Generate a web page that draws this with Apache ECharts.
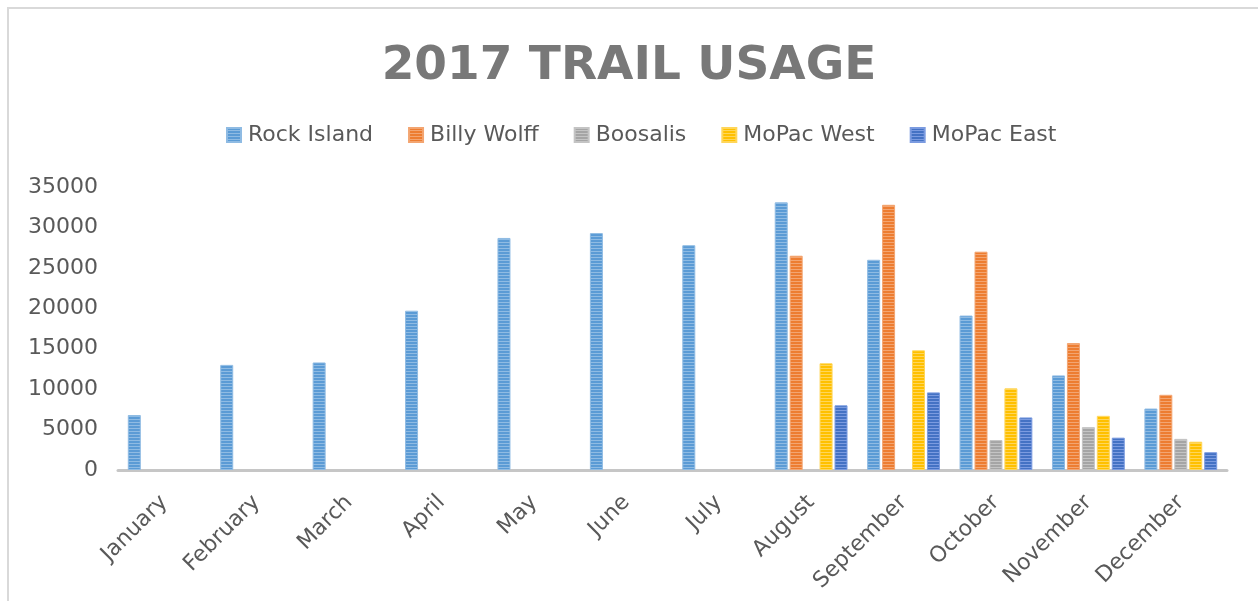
<!DOCTYPE html>
<html>
<head>
<meta charset="utf-8">
<title>2017 Trail Usage</title>
<script src="https://cdn.jsdelivr.net/npm/echarts@6/dist/echarts.min.js"></script>
<style>
  html, body { margin: 0; padding: 0; background: #fff; }
  #main { width: 1258px; height: 601px; }
</style>
</head>
<body>
<div id="main"></div>
<script>
// data
var months = ['January', 'February', 'March', 'April', 'May', 'June', 'July',
  'August', 'September', 'October', 'November', 'December'];
var rockIsland = [6800, 13000, 13300, 19700, 28700, 29300, 27800, 33100, 26000, 19100, 11700, 7600];
var billyWolff = [null, null, null, null, null, null, null, 26500, 32800, 27000, 15700, 9300];
var boosalis = [null, null, null, null, null, null, null, null, null, 3700, 5300, 3850];
var mopacWest = [null, null, null, null, null, null, null, 13200, 14800, 10100, 6700, 3500];
var mopacEast = [null, null, null, null, null, null, null, 8000, 9600, 6500, 4000, 2200];
var yTicks = [0, 5000, 10000, 15000, 20000, 25000, 30000, 35000];

var seriesNames = ['Rock Island', 'Billy Wolff', 'Boosalis', 'MoPac West', 'MoPac East'];
var seriesData = [rockIsland, billyWolff, boosalis, mopacWest, mopacEast];
var colors = ['#5B9BD5', '#ED7D31', '#A5A5A5', '#FFC000', '#4472C4'];
var lights = ['#8fbbe3', '#f3a571', '#c4c4c4', '#ffd65a', '#7b9be0'];

// horizontal stripes like the excel fill
function stripes(base, light) {
  var c = document.createElement('canvas');
  c.width = 4;
  c.height = 3;
  var ctx = c.getContext('2d');
  ctx.fillStyle = base;
  ctx.fillRect(0, 0, 4, 3);
  ctx.fillStyle = light;
  ctx.fillRect(0, 2, 4, 1);
  return { image: c, repeat: 'repeat' };
}

var font = 'DejaVu Sans';
var chart = echarts.init(document.getElementById('main'));

var series = seriesNames.map(function (name, i) {
  return {
    name: name,
    type: 'bar',
    barWidth: 13,
    barGap: '15%',
    data: seriesData[i],
    itemStyle: {
      color: stripes(colors[i], lights[i]),
      borderColor: lights[i],
      borderWidth: 1
    },
    emphasis: { disabled: true }
  };
});

var option = {
  backgroundColor: '#fff',
  animation: false,
  color: colors,
  title: {
    text: '2017 TRAIL USAGE',
    left: 'center',
    top: 38,
    textStyle: {
      fontFamily: font,
      fontWeight: 'bold',
      fontSize: 47,
      color: '#787878'
    }
  },
  legend: {
    data: seriesNames,
    top: 119,
    left: 221,
    itemWidth: 14,
    itemHeight: 14,
    itemGap: 35,
    icon: 'rect',
    textStyle: {
      fontFamily: font,
      fontSize: 22,
      color: '#595959',
      padding: [0, 0, 0, 2]
    }
  },
  grid: {
    left: 118,
    right: 31,
    top: 187,
    bottom: 131,
    containLabel: false
  },
  xAxis: {
    type: 'category',
    data: months,
    axisLine: { lineStyle: { color: '#c6c6c6', width: 3 } },
    axisTick: { show: false },
    axisLabel: {
      rotate: 45,
      margin: 29,
      interval: 0,
      fontFamily: font,
      fontSize: 22,
      color: '#595959'
    },
    splitLine: { show: false }
  },
  yAxis: {
    type: 'value',
    min: yTicks[0],
    max: yTicks[yTicks.length - 1],
    interval: yTicks[1] - yTicks[0],
    axisLine: { show: false },
    axisTick: { show: false },
    splitLine: { show: false },
    axisLabel: {
      margin: 20,
      fontFamily: font,
      fontSize: 22,
      color: '#595959',
      formatter: function (v) { return String(v); }
    }
  },
  graphic: [{
    type: 'rect',
    shape: { x: 8, y: 8, width: 1300, height: 700 },
    style: { fill: 'none', stroke: '#d9d9d9', lineWidth: 2 },
    silent: true
  }],
  series: series
};

chart.setOption(option);
</script>
</body>
</html>
